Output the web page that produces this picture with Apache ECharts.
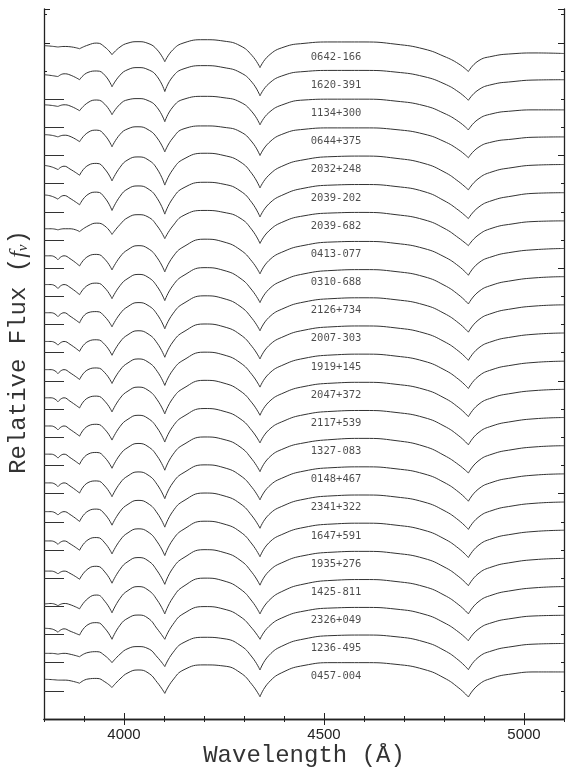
<!DOCTYPE html>
<html>
<head>
<meta charset="utf-8">
<script src="https://cdn.jsdelivr.net/npm/echarts@6/dist/echarts.min.js"></script>
<style>
html, body { margin: 0; padding: 0; background: #fff; }
#chart { width: 567px; height: 775px; }
</style>
</head>
<body>
<div id="chart"></div>
<script>
// wavelength grid (Angstrom) shared by every spectrum
var waves = [3800, 3818, 3835, 3850, 3865, 3889, 3910, 3932, 3952, 3970, 3990, 4010, 4035, 4060, 4083, 4102, 4122, 4150, 4200,
  4250, 4290, 4320, 4340, 4362, 4400, 4450, 4520, 4600, 4680, 4750, 4800, 4837, 4861, 4885, 4920, 4970, 5030, 5100]
// positions (in waves) of the Balmer line cores: H9, H8, He, Hd, Hg, Hb
var dips = [2, 5, 9, 15, 22, 32]

var xTicks = [4000, 4500, 5000]
var zeroMarks = [1, 2, 3, 4, 5, 6, 7, 8, 9, 10, 11, 12, 13, 14, 15, 16, 17, 18, 19, 20, 21, 22]

var names = ['0642-166', '1620-391', '1134+300', '0644+375', '2032+248', '2039-202', '2039-682', '0413-077',
  '0310-688', '2126+734', '2007-303', '1919+145', '2047+372', '2117+539', '1327-083', '0148+467',
  '2341+322', '1647+591', '1935+276', '1425-811', '2326+049', '1236-495', '0457-004']

// relative flux of each star (offset removed)
var wd0642 = [0.90, 0.88, 0.85, 0.87, 0.86, 0.79, 0.92, 0.99, 0.85, 0.58, 0.85, 0.99, 1.04, 0.98, 0.75, 0.33, 0.75, 1.00, 1.11,
  1.06, 0.90, 0.55, 0.12, 0.55, 0.85, 0.98, 1.03, 1.03, 0.95, 0.78, 0.52, 0.25, -0.02, 0.35, 0.52, 0.61, 0.64, 0.62]
var wd1620 = [0.87, 0.84, 0.80, 0.90, 0.86, 0.69, 0.95, 1.00, 0.85, 0.44, 0.85, 1.05, 1.12, 1.05, 0.80, 0.27, 0.80, 1.08, 1.19,
  1.12, 0.95, 0.60, 0.12, 0.55, 0.85, 0.98, 1.02, 1.02, 0.96, 0.80, 0.55, 0.25, -0.04, 0.32, 0.52, 0.62, 0.68, 0.69]
var wd1134 = [0.80, 0.78, 0.74, 0.80, 0.76, 0.59, 0.88, 0.97, 0.82, 0.45, 0.82, 0.98, 1.02, 0.95, 0.70, 0.20, 0.72, 1.00, 1.10,
  1.05, 0.90, 0.55, 0.09, 0.52, 0.82, 0.97, 1.00, 1.00, 0.93, 0.77, 0.50, 0.20, -0.09, 0.28, 0.48, 0.58, 0.62, 0.62]
var wd0644 = [0.74, 0.72, 0.66, 0.72, 0.68, 0.49, 0.82, 0.90, 0.72, 0.31, 0.75, 0.95, 1.02, 0.92, 0.62, 0.13, 0.62, 0.95, 1.05,
  1.00, 0.85, 0.48, 0.00, 0.45, 0.78, 0.93, 0.98, 0.98, 0.92, 0.76, 0.50, 0.20, -0.08, 0.28, 0.48, 0.58, 0.65, 0.66]
var wd2032 = [0.65, 0.60, 0.50, 0.62, 0.52, 0.30, 0.65, 0.72, 0.52, 0.10, 0.58, 0.85, 0.95, 0.85, 0.52, -0.05, 0.50, 0.88, 1.08,
  1.00, 0.78, 0.35, -0.15, 0.30, 0.65, 0.85, 0.96, 0.98, 0.90, 0.72, 0.42, 0.07, -0.22, 0.17, 0.42, 0.57, 0.66, 0.68]
var wd2039a = [0.60, 0.56, 0.45, 0.58, 0.48, 0.25, 0.62, 0.70, 0.50, 0.05, 0.55, 0.82, 0.92, 0.82, 0.48, -0.08, 0.48, 0.86, 1.05,
  0.98, 0.75, 0.32, -0.18, 0.28, 0.62, 0.84, 0.95, 0.97, 0.90, 0.72, 0.40, 0.05, -0.24, 0.15, 0.40, 0.56, 0.66, 0.68]
var wd2039b = [0.40, 0.40, 0.36, 0.40, 0.40, 0.30, 0.50, 0.60, 0.50, 0.20, 0.55, 0.80, 0.90, 0.82, 0.50, 0.05, 0.50, 0.88, 1.05,
  0.98, 0.78, 0.36, -0.12, 0.32, 0.66, 0.86, 0.96, 0.98, 0.90, 0.72, 0.42, 0.07, -0.20, 0.17, 0.42, 0.57, 0.66, 0.68]
var wd0413 = [0.44, 0.44, 0.30, 0.44, 0.34, 0.08, 0.42, 0.49, 0.32, -0.06, 0.40, 0.66, 0.80, 0.70, 0.37, -0.13, 0.40, 0.77, 1.03,
  0.93, 0.66, 0.24, -0.20, 0.27, 0.60, 0.81, 0.93, 0.95, 0.88, 0.70, 0.41, 0.07, -0.25, 0.17, 0.41, 0.57, 0.66, 0.70]
var wd0310 = [0.42, 0.42, 0.28, 0.42, 0.32, 0.06, 0.40, 0.47, 0.30, -0.08, 0.38, 0.64, 0.78, 0.68, 0.35, -0.15, 0.38, 0.75, 1.02,
  0.92, 0.65, 0.22, -0.22, 0.25, 0.58, 0.80, 0.92, 0.95, 0.88, 0.70, 0.40, 0.05, -0.27, 0.15, 0.40, 0.56, 0.66, 0.70]
var wd2126 = [0.42, 0.42, 0.28, 0.42, 0.30, 0.06, 0.42, 0.46, 0.28, -0.08, 0.38, 0.64, 0.78, 0.68, 0.36, -0.15, 0.38, 0.76, 1.02,
  0.92, 0.65, 0.22, -0.22, 0.25, 0.58, 0.80, 0.92, 0.95, 0.88, 0.70, 0.40, 0.05, -0.27, 0.15, 0.40, 0.56, 0.66, 0.70]
var wd2007 = [0.40, 0.40, 0.27, 0.40, 0.30, 0.05, 0.40, 0.46, 0.29, -0.09, 0.38, 0.64, 0.78, 0.67, 0.34, -0.16, 0.38, 0.75, 1.02,
  0.92, 0.65, 0.22, -0.22, 0.25, 0.58, 0.80, 0.92, 0.95, 0.88, 0.70, 0.40, 0.05, -0.27, 0.15, 0.40, 0.56, 0.66, 0.70]
var wd1919 = [0.40, 0.40, 0.26, 0.40, 0.29, 0.05, 0.40, 0.46, 0.29, -0.09, 0.38, 0.64, 0.78, 0.67, 0.34, -0.16, 0.38, 0.75, 1.02,
  0.92, 0.65, 0.22, -0.22, 0.25, 0.58, 0.80, 0.92, 0.95, 0.88, 0.70, 0.40, 0.05, -0.27, 0.15, 0.40, 0.56, 0.66, 0.70]
var wd2047 = [0.40, 0.40, 0.26, 0.40, 0.28, 0.04, 0.40, 0.46, 0.28, -0.10, 0.38, 0.64, 0.78, 0.67, 0.33, -0.17, 0.38, 0.75, 1.02,
  0.92, 0.65, 0.22, -0.22, 0.25, 0.58, 0.80, 0.92, 0.95, 0.88, 0.70, 0.40, 0.05, -0.27, 0.15, 0.40, 0.56, 0.66, 0.70]
var wd2117 = [0.40, 0.40, 0.26, 0.40, 0.28, 0.04, 0.40, 0.46, 0.28, -0.10, 0.38, 0.64, 0.78, 0.67, 0.33, -0.17, 0.38, 0.75, 1.02,
  0.92, 0.66, 0.23, -0.20, 0.26, 0.58, 0.80, 0.92, 0.95, 0.88, 0.70, 0.40, 0.05, -0.27, 0.15, 0.40, 0.56, 0.66, 0.70]
var wd1327 = [0.40, 0.40, 0.26, 0.40, 0.28, 0.04, 0.40, 0.46, 0.28, -0.10, 0.38, 0.64, 0.78, 0.67, 0.33, -0.17, 0.38, 0.75, 1.01,
  0.92, 0.66, 0.22, -0.22, 0.27, 0.60, 0.80, 0.92, 0.96, 0.88, 0.68, 0.36, 0.02, -0.27, 0.15, 0.40, 0.56, 0.66, 0.70]
var wd0148 = [0.38, 0.38, 0.25, 0.38, 0.27, 0.02, 0.39, 0.45, 0.27, -0.11, 0.37, 0.63, 0.77, 0.66, 0.32, -0.18, 0.38, 0.75, 1.02,
  0.92, 0.65, 0.22, -0.22, 0.25, 0.58, 0.80, 0.92, 0.95, 0.88, 0.70, 0.40, 0.05, -0.27, 0.15, 0.40, 0.56, 0.66, 0.70]
var wd2341 = [0.36, 0.36, 0.24, 0.36, 0.26, 0.01, 0.38, 0.45, 0.27, -0.12, 0.36, 0.62, 0.76, 0.65, 0.31, -0.19, 0.37, 0.75, 1.02,
  0.92, 0.65, 0.21, -0.23, 0.25, 0.58, 0.80, 0.92, 0.95, 0.88, 0.70, 0.40, 0.05, -0.27, 0.15, 0.40, 0.56, 0.66, 0.70]
var wd1647 = [0.32, 0.32, 0.20, 0.32, 0.22, -0.01, 0.36, 0.44, 0.25, -0.14, 0.34, 0.61, 0.75, 0.64, 0.29, -0.20, 0.36, 0.74, 1.02,
  0.92, 0.65, 0.21, -0.24, 0.25, 0.58, 0.80, 0.92, 0.95, 0.88, 0.70, 0.40, 0.05, -0.27, 0.15, 0.40, 0.56, 0.66, 0.70]
var wd1935 = [0.25, 0.25, 0.15, 0.25, 0.17, -0.04, 0.33, 0.42, 0.22, -0.18, 0.31, 0.59, 0.73, 0.62, 0.26, -0.22, 0.35, 0.73, 1.01,
  0.91, 0.64, 0.20, -0.25, 0.24, 0.58, 0.80, 0.92, 0.95, 0.88, 0.70, 0.40, 0.05, -0.27, 0.15, 0.40, 0.56, 0.66, 0.70]
var wd1425 = [0.08, 0.10, 0.02, 0.10, 0.06, -0.09, 0.28, 0.40, 0.18, -0.23, 0.28, 0.56, 0.70, 0.58, 0.22, -0.27, 0.30, 0.72, 1.00,
  0.90, 0.62, 0.18, -0.27, 0.20, 0.56, 0.79, 0.92, 0.95, 0.88, 0.70, 0.40, 0.05, -0.27, 0.15, 0.40, 0.56, 0.66, 0.70]
var wd2326 = [0.22, 0.20, 0.08, 0.20, 0.12, -0.02, 0.35, 0.42, 0.22, -0.17, 0.33, 0.58, 0.69, 0.58, 0.20, -0.17, 0.35, 0.75, 0.99,
  0.90, 0.64, 0.22, -0.17, 0.28, 0.62, 0.83, 0.94, 0.96, 0.90, 0.72, 0.42, 0.08, -0.22, 0.18, 0.42, 0.57, 0.66, 0.68]
var wd1236 = [0.33, 0.33, 0.30, 0.33, 0.30, 0.21, 0.36, 0.39, 0.25, 0.00, 0.30, 0.50, 0.57, 0.50, 0.20, -0.14, 0.35, 0.72, 0.90,
  0.85, 0.62, 0.20, -0.26, 0.25, 0.62, 0.84, 0.96, 0.98, 0.92, 0.74, 0.44, 0.08, -0.25, 0.18, 0.42, 0.57, 0.66, 0.68]
var wd0457 = [0.41, 0.40, 0.38, 0.38, 0.36, 0.27, 0.42, 0.44, 0.32, 0.12, 0.42, 0.64, 0.74, 0.64, 0.30, -0.09, 0.38, 0.75, 0.92,
  0.88, 0.65, 0.22, -0.21, 0.30, 0.68, 0.90, 1.00, 1.00, 0.94, 0.76, 0.46, 0.10, -0.22, 0.20, 0.45, 0.60, 0.67, 0.67]

var spectra = [wd0642, wd1620, wd1134, wd0644, wd2032, wd2039a, wd2039b, wd0413, wd0310, wd2126, wd2007,
  wd1919, wd2047, wd2117, wd1327, wd0148, wd2341, wd1647, wd1935, wd1425, wd2326, wd1236, wd0457]

var labelWave = 4467
var ink = '#333'

var chart = echarts.init(document.getElementById('chart'))

var series = []
spectra.forEach(function (flux, k) {
  var base = names.length - k
  var pts = waves.map(function (w, i) {
    return [w, base + flux[i]]
  })
  // split at the line cores so every core stays a sharp cusp
  var cuts = [0].concat(dips, [waves.length - 1])
  for (var j = 0; j < cuts.length - 1; j++) {
    series.push({
      type: 'line',
      data: pts.slice(cuts[j], cuts[j + 1] + 1),
      smooth: 0.5,
      symbol: 'none',
      silent: true,
      lineStyle: { color: ink, width: 1 }
    })
  }
})

// star names
series.push({
  type: 'scatter',
  symbolSize: 0,
  silent: true,
  data: names.map(function (n, k) {
    return { name: n, value: [labelWave, names.length - k + 0.5] }
  }),
  label: {
    show: true,
    position: 'right',
    distance: 0,
    formatter: '{b}',
    fontFamily: 'DejaVu Sans Mono',
    fontSize: 10.5,
    color: '#1e1e1e'
  }
})

// short zero-level bars at the left edge
series.push({
  type: 'line',
  data: [],
  silent: true,
  markLine: {
    silent: true,
    symbol: 'none',
    animation: false,
    label: { show: false },
    lineStyle: { color: ink, width: 1, type: 'solid' },
    data: zeroMarks.map(function (v) {
      return [{ coord: [3800, v] }, { coord: [3850, v] }]
    })
  }
})

function xAx (pos, major) {
  var ax = {
    type: 'value', position: pos, min: 3800, max: 5100,
    axisLine: { show: !major, lineStyle: { color: '#222', width: 1.3 } },
    splitLine: { show: false },
    axisLabel: { show: false }
  }
  if (major) {
    ax.axisTick = { inside: true, length: 6, customValues: xTicks, lineStyle: { color: '#222' } }
    if (pos === 'bottom') {
      ax.axisLabel = {
        show: true, customValues: xTicks, margin: 8,
        fontFamily: 'Liberation Sans', fontSize: 15, color: '#222',
        formatter: function (v) { return String(v) }
      }
    }
  } else {
    ax.interval = 100
    ax.axisTick = { inside: true, length: 3, lineStyle: { color: '#222' } }
  }
  return ax
}

function yAx (pos, major) {
  return {
    type: 'value', position: pos, min: 0, max: 25.2, interval: major ? 4 : 1,
    axisLine: { show: !major, lineStyle: { color: '#222', width: 1.3 } },
    axisTick: { inside: true, length: major ? 6 : 3, lineStyle: { color: '#222' } },
    axisLabel: { show: false },
    splitLine: { show: false }
  }
}

var yMain = yAx('left', false)
yMain.name = 'Relative Flux ({i|f}{s|ν})'
yMain.nameLocation = 'middle'
yMain.nameGap = 13
yMain.nameTextStyle = {
  fontFamily: 'Liberation Mono', fontSize: 24, color: '#333',
  padding: [0, 0, 0, 24],
  rich: {
    i: { fontFamily: 'Liberation Serif', fontStyle: 'italic', fontSize: 24, color: '#333' },
    s: { fontFamily: 'Liberation Serif', fontStyle: 'italic', fontSize: 15, color: '#333', verticalAlign: 'bottom', padding: [8, 0, 0, 0] }
  }
}

var xMain = xAx('bottom', false)
xMain.name = 'Wavelength (Å)'
xMain.nameLocation = 'middle'
xMain.nameGap = 25
xMain.nameTextStyle = { fontFamily: 'Liberation Mono', fontSize: 24, color: '#333' }

var option = {
  animation: false,
  backgroundColor: '#fff',
  grid: { left: 44, right: 3, top: 9, bottom: 56, containLabel: false, outerBoundsMode: 'none' },
  xAxis: [xMain, xAx('bottom', true), xAx('top', false), xAx('top', true)],
  yAxis: [yMain, yAx('right', false), yAx('left', true), yAx('right', true)],
  series: series
}

chart.setOption(option)
</script>
</body>
</html>
